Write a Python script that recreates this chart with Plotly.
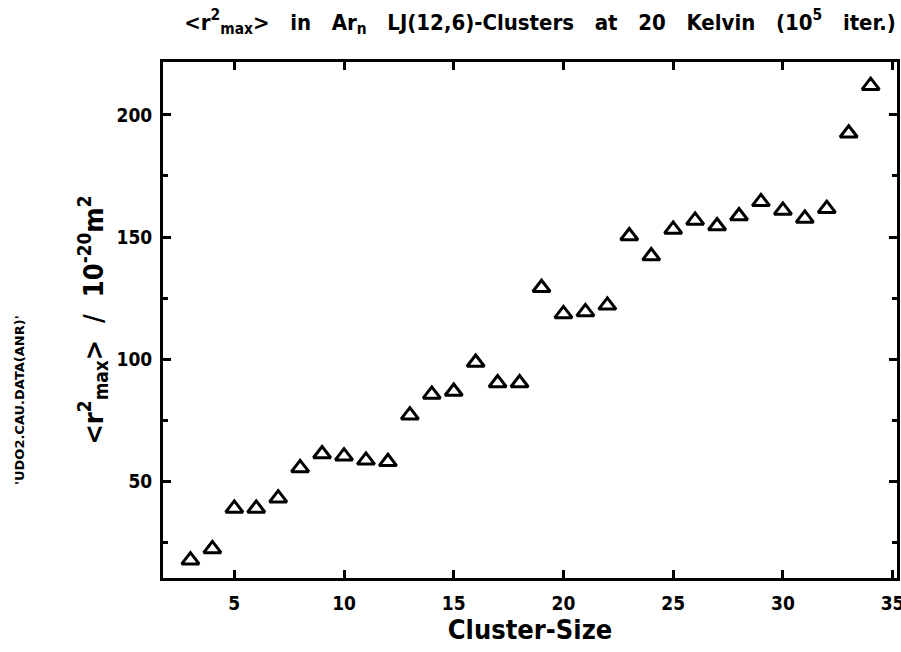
import plotly.graph_objects as go

cluster_size = [3, 4, 5, 6, 7, 8, 9, 10, 11, 12, 13, 14, 15, 16, 17, 18,
                19, 20, 21, 22, 23, 24, 25, 26, 27, 28, 29, 30, 31, 32, 33, 34]
r2max = [17.6, 22.2, 38.8, 38.8, 43.0, 55.4, 61.1, 60.2, 58.5, 57.9, 77.0, 85.5,
         86.7, 98.6, 90.2, 90.2, 129.2, 118.5, 119.3, 122.0, 150.4, 142.2, 153.1,
         156.8, 154.5, 158.6, 164.4, 160.9, 157.6, 161.6, 192.5, 212.0]
x_ticks = [5, 10, 15, 20, 25, 30, 35]
y_ticks = [50, 100, 150, 200]

FONT = "DejaVu Sans Condensed, Liberation Sans Narrow, DejaVu Sans"

W, H = 901, 652
ML, MR, MT, MB = 163, 4, 62, 74
PW, PH = W - ML - MR, H - MT - MB

fig = go.Figure()
fig.add_trace(go.Scatter(
    x=cluster_size, y=r2max, mode="markers",
    marker=dict(symbol="triangle-up-open", size=15, color="black",
                line=dict(width=3, color="black")),
    showlegend=False,
))

axis_common = dict(
    showline=True, linecolor="black", linewidth=3, mirror="ticks",
    ticks="inside", ticklen=8, tickwidth=2.5, tickcolor="black",
    showgrid=False, zeroline=False, ticklabeloverflow="allow",
    automargin=False,
    tickfont=dict(family=FONT, size=19, color="black", weight="bold"),
)

fig.update_xaxes(
    range=[1.75, 35.2], tickvals=x_ticks, ticklabelstandoff=6,
    title=dict(text="Cluster-Size",
               font=dict(family=FONT, size=27, color="black", weight="bold"),
               standoff=4),
    **axis_common,
)
fig.update_yaxes(
    range=[10.3, 221.7], tickvals=y_ticks, ticklabelstandoff=4,
    minor=dict(dtick=25, tick0=0, ticks="inside", ticklen=5, tickwidth=2.5,
               tickcolor="black"),
    title=dict(text="&lt;r<sup>2</sup><sub>max</sub>&gt;  /  10<sup>-20</sup>m<sup>2</sup>",
               font=dict(family=FONT, size=27, color="black", weight="bold"),
               standoff=6),
    **axis_common,
)

GAP = "&nbsp;&nbsp; "
title_text = GAP.join([
    "&lt;r<sup>2</sup><sub>max</sub>&gt;", "in", "Ar<sub>n</sub>",
    "LJ(12,6)-Clusters", "at", "20", "Kelvin", "(10<sup>5</sup>", "iter.)",
])

fig.update_layout(
    width=W, height=H, autosize=False,
    margin=dict(l=ML, r=MR, t=MT, b=MB),
    paper_bgcolor="white", plot_bgcolor="white",
    title=dict(
        text=title_text,
        x=(540 - ML) / PW, xref="paper", xanchor="center",
        y=1 - 22 / H, yanchor="middle",
        font=dict(family=FONT, size=22, color="black", weight="bold"),
    ),
    annotations=[dict(
        text="'UDO2.CAU.DATA(ANR)'", textangle=-90,
        x=(19 - ML) / PW, y=(H - MB - 400) / PH, xref="paper", yref="paper",
        xanchor="center", yanchor="middle",
        showarrow=False,
        font=dict(family="DejaVu Sans", size=13, color="black", weight="bold"),
    )],
)

fig.write_html("out.html")
